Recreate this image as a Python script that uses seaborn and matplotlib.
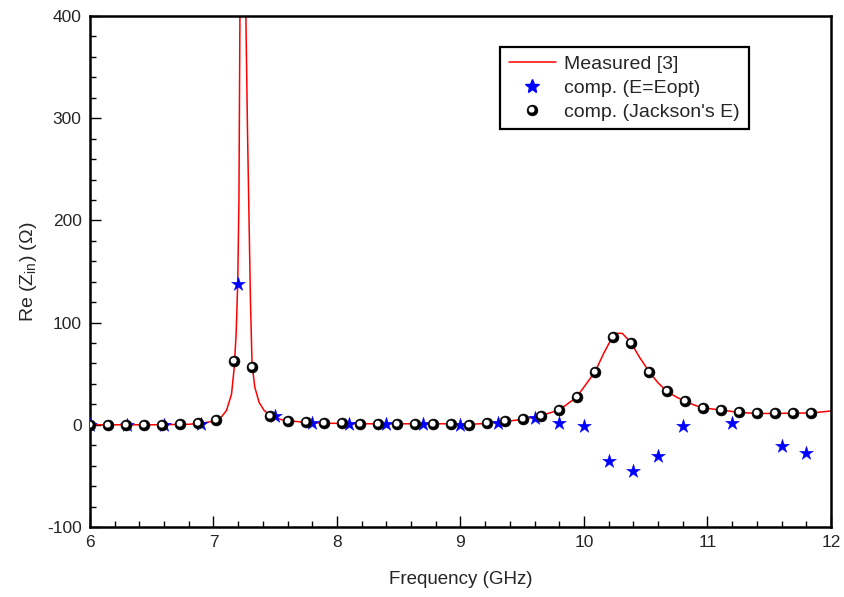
import matplotlib
matplotlib.use("Agg")
import matplotlib.pyplot as plt
import seaborn as sns
import pandas as pd
import numpy as np
from matplotlib.lines import Line2D
from matplotlib.path import Path
from matplotlib.ticker import MultipleLocator

# Measured curve
meas_x = [6.0, 6.5, 6.8, 6.9, 7.0, 7.051, 7.105, 7.146, 7.167, 7.183, 7.196, 7.206,
          7.214, 7.225, 7.24, 7.252, 7.262, 7.275, 7.285, 7.299, 7.312, 7.334, 7.369,
          7.41, 7.46, 7.55, 7.65, 7.75, 7.9, 8.2, 8.9, 9.07, 9.21, 9.36, 9.5, 9.65,
          9.8, 9.94, 10.09, 10.16, 10.23, 10.27, 10.31, 10.38, 10.45, 10.53, 10.6, 10.67,
          10.75, 10.82, 10.9, 10.96, 11.11, 11.26, 11.4, 11.55, 11.7, 11.84, 12.0]
meas_y = [0, 0, 0.5, 1.5, 3.5, 5.6, 14, 30, 55, 88, 138, 220,
          400, 700, 1000, 700, 400, 290, 220, 122, 60, 37, 22,
          14, 9, 5, 3.5, 2.3, 1.6, 1.0, 1.0, 0.5, 1.3, 3.3, 5.2, 8.9,
          14.5, 27, 52, 70, 86, 89.5, 89.5, 80.5, 66, 51.5, 41, 32.8,
          27, 23, 19, 16.7, 14.4, 12.1, 11.1, 11.1, 11.4, 11.6, 13.5]

# comp. (E=Eopt)
eopt_x = [6.0, 6.3, 6.6, 6.9, 7.2, 7.5, 7.8, 8.1, 8.4, 8.7, 9.0, 9.3, 9.6, 9.8,
          10.0, 10.2, 10.4, 10.6, 10.8, 11.2, 11.6, 11.8]
eopt_y = [0, 0, 0, 0.7, 138, 9, 1.6, 0.7, 0.7, 0.7, 0, 1.5, 6.6, 1.3,
          -1, -35, -45, -31, -0.7, 1.6, -21, -27.5]

# comp. (Jackson's E)
jack_x = [6.000, 6.146, 6.292, 6.438, 6.584, 6.730, 6.876, 7.022, 7.168, 7.314,
          7.460, 7.606, 7.752, 7.898, 8.044, 8.190, 8.336, 8.482, 8.628, 8.774,
          8.920, 9.066, 9.212, 9.358, 9.504, 9.650, 9.796, 9.942, 10.088, 10.234,
          10.380, 10.526, 10.672, 10.818, 10.964, 11.110, 11.256, 11.402, 11.548,
          11.694, 11.840]
jack_y = [0, 0, 0, 0, 0, 0.7, 1.3, 4.9, 62, 57,
          9, 4, 2.3, 1.6, 1.6, 0.7, 1, 1, 1, 1,
          1, 0, 1.3, 3.3, 5.2, 8.9, 14.5, 27, 52, 86,
          80.5, 51.5, 32.8, 23, 16.7, 14.4, 12.1, 11.1, 11.1,
          11.4, 11.6]

x_ticks = [6, 7, 8, 9, 10, 11, 12]
y_ticks = [-100, 0, 100, 200, 300, 400]

sns.set_style("white")
plt.rcParams['font.family'] = ['Liberation Sans', 'DejaVu Sans']
plt.rcParams['mathtext.fontset'] = 'custom'
plt.rcParams['mathtext.rm'] = 'Liberation Sans'
plt.rcParams['mathtext.it'] = 'Liberation Sans'
plt.rcParams['axes.unicode_minus'] = False

# sphere-like marker: black crescent/ring over a white disc
t = np.linspace(0, 2 * np.pi, 65)
outer = np.column_stack([np.cos(t), np.sin(t)])
inner = np.column_stack([-0.15 + 0.6 * np.cos(t[::-1]), 0.15 + 0.6 * np.sin(t[::-1])])
verts = np.vstack([outer, inner])
codes = ([Path.MOVETO] + [Path.LINETO] * 63 + [Path.CLOSEPOLY]) * 2
ring = Path(verts, codes)

fig = plt.figure(figsize=(8.45, 5.97), dpi=100)
ax = fig.add_axes([90 / 845, 1 - 527 / 597, 741 / 845, 511 / 597])

df_m = pd.DataFrame({"x": meas_x, "y": meas_y})
df_e = pd.DataFrame({"x": eopt_x, "y": eopt_y})
df_j = pd.DataFrame({"x": jack_x, "y": jack_y})

sns.lineplot(data=df_m, x="x", y="y", ax=ax, color="#ff0000", linewidth=1.1,
             sort=False, estimator=None, zorder=2)
sns.scatterplot(data=df_e, x="x", y="y", ax=ax, marker="*", color="#0000ff",
                s=110, edgecolor="#0000ff", linewidth=0.3, zorder=3)
sns.scatterplot(data=df_j, x="x", y="y", ax=ax, marker="o", color="white",
                s=62, linewidth=0, zorder=4)
sns.scatterplot(data=df_j, x="x", y="y", ax=ax, marker=ring, color="black",
                s=62, linewidth=0.4, edgecolor="black", zorder=5)

ax.set_xlim(6, 12)
ax.set_ylim(-100, 400)
ax.set_xticks(x_ticks)
ax.set_yticks(y_ticks)
ax.xaxis.set_minor_locator(MultipleLocator(0.2))
ax.yaxis.set_minor_locator(MultipleLocator(20))
ax.tick_params(axis='both', which='major', direction='in', length=8, width=1,
               labelsize=12.5, color='black', pad=6)
ax.tick_params(axis='both', which='minor', direction='in', length=4, width=1,
               color='black')
ax.tick_params(axis='x', which='both', top=False, bottom=True)
ax.tick_params(axis='y', which='both', left=True, right=False)
for s in ax.spines.values():
    s.set_linewidth(1.8)
    s.set_color('black')
    s.set_visible(True)

ax.set_xlabel("Frequency (GHz)", fontsize=13.5, labelpad=15)
ax.set_ylabel(r"Re (Z$_{\rm in}$) ($\Omega$)", fontsize=14, labelpad=6)

handles = [
    Line2D([], [], color="#ff0000", linewidth=1.1),
    Line2D([], [], linestyle='none', marker='*', color="#0000ff", markersize=10),
    (Line2D([], [], linestyle='none', marker='o', markerfacecolor='white',
            markeredgewidth=0, markersize=7.8),
     Line2D([], [], linestyle='none', marker=ring, markerfacecolor='black',
            markeredgecolor='black', markeredgewidth=0.4, markersize=7.8)),
]
labels = ["Measured [3]", "comp. (E=Eopt)", "comp. (Jackson's E)"]
leg = ax.legend(handles, labels, loc='upper right', bbox_to_anchor=(0.889, 0.940),
                fontsize=14, frameon=True, fancybox=False, framealpha=1,
                edgecolor='black', borderpad=0.45, labelspacing=0.32,
                handlelength=2.4, handletextpad=0.45, borderaxespad=0)
leg.get_frame().set_linewidth(1.6)

fig.savefig("out.png", dpi=100)
